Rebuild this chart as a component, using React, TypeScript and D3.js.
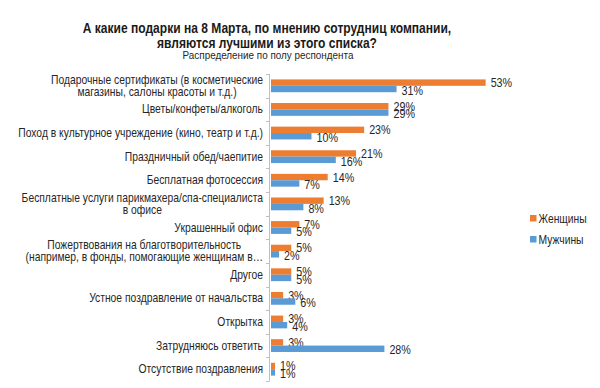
import React, { useEffect, useRef } from 'react';
import * as d3 from 'd3';

const categories: string[][] = [
  ['Подарочные сертификаты (в косметические', 'магазины, салоны красоты и т.д.)'],
  ['Цветы/конфеты/алкоголь'],
  ['Поход в культурное учреждение (кино, театр и т.д.)'],
  ['Праздничный обед/чаепитие'],
  ['Бесплатная фотосессия'],
  ['Бесплатные услуги парикмахера/спа-специалиста', 'в офисе'],
  ['Украшенный офис'],
  ['Пожертвования на благотворительность', '(например, в фонды, помогающие женщинам в…'],
  ['Другое'],
  ['Устное поздравление от начальства'],
  ['Открытка'],
  ['Затрудняюсь ответить'],
  ['Отсутствие поздравления'],
];
const women = [53, 29, 23, 21, 14, 13, 7, 5, 5, 3, 3, 3, 1];
const men = [31, 29, 10, 16, 7, 8, 5, 2, 5, 6, 4, 28, 1];
const seriesNames = ['Женщины', 'Мужчины'];
const colors = ['#ED7D31', '#5B9BD5'];

const title = ['А какие подарки на 8 Марта, по мнению сотрудниц  компании,', 'являются лучшими из этого списка?'];
const subtitle = 'Распределение по полу респондента';

const W = 600;
const H = 388;
const SX = 0.86; // текст в оригинале сжат по горизонтали
const FONT = 'Liberation Sans, Arial, sans-serif';

export default function App() {
  const svgRef = useRef<SVGSVGElement>(null);

  useEffect(() => {
    const svg = d3.select(svgRef.current);
    svg.selectAll('*').remove();

    const x = d3.scaleLinear().domain([0, 60]).range([271, 514]);
    const y = d3.scaleBand<number>()
      .domain(d3.range(categories.length))
      .range([74, 381]);
    const barH = 6.4;

    // заголовок
    const t = svg.append('g').attr('font-family', FONT).attr('fill', '#1a1a1a');
    title.forEach((line, i) => {
      t.append('text')
        .attr('transform', `translate(267,${33 + i * 14.5}) scale(${SX},1)`)
        .attr('text-anchor', 'middle')
        .attr('font-size', 14)
        .attr('font-weight', 'bold')
        .text(line);
    });
    t.append('text')
      .attr('transform', `translate(268,59) scale(${SX},1)`)
      .attr('text-anchor', 'middle')
      .attr('font-size', 11.5)
      .attr('fill', '#262626')
      .text(subtitle);

    // ось + засечки
    const ax = svg.append('g').attr('stroke', '#bfbfbf').attr('stroke-width', 1);
    ax.append('line').attr('x1', 269.5).attr('x2', 269.5).attr('y1', y.range()[0]).attr('y2', y.range()[1]);
    d3.range(categories.length + 1).forEach(i => {
      const yy = Math.round(y.range()[0] + i * y.step()) + 0.5;
      ax.append('line').attr('x1', 266).attr('x2', 269.5).attr('y1', yy).attr('y2', yy);
    });

    // подписи категорий
    const lab = svg.append('g').attr('font-family', FONT).attr('font-size', 12).attr('fill', '#262626');
    categories.forEach((lines, i) => {
      const cy = y(i)! + y.bandwidth() / 2;
      const g = lab.append('g').attr('transform', `translate(263,${cy}) scale(${SX},1)`);
      const lh = 12;
      const texts = lines.map((l, j) =>
        g.append('text')
          .attr('y', (j - (lines.length - 1) / 2) * lh + 4)
          .text(l));
      if (lines.length === 1) {
        texts[0].attr('text-anchor', 'end');
      } else {
        // многострочные подписи центрируются по самой длинной строке
        const widths = texts.map(tx => (tx.node() as SVGTextElement).getComputedTextLength());
        const maxW = d3.max(widths)!;
        texts.forEach(tx => tx.attr('text-anchor', 'middle').attr('x', -maxW / 2));
      }
    });

    // столбцы
    [women, men].forEach((vals, s) => {
      const g = svg.append('g');
      vals.forEach((v, i) => {
        const cy = y(i)! + y.bandwidth() / 2;
        const y0 = cy - barH + s * barH;
        g.append('rect')
          .attr('x', x(0))
          .attr('y', y0)
          .attr('width', x(v) - x(0))
          .attr('height', barH)
          .attr('fill', colors[s]);
        g.append('text')
          .attr('transform', `translate(${x(v) + 5},${y0 + barH / 2 + 4.5 + s * 1.2}) scale(${SX},1)`)
          .attr('font-family', FONT)
          .attr('font-size', 12.5)
          .attr('fill', '#262626')
          .text(`${v}%`);
      });
    });

    // легенда
    const leg = svg.append('g').attr('font-family', FONT).attr('font-size', 12).attr('fill', '#262626');
    seriesNames.forEach((name, i) => {
      const ly = 218 + i * 21;
      leg.append('rect').attr('x', 530).attr('y', ly - 3).attr('width', 6.5).attr('height', 6.5).attr('fill', colors[i]);
      leg.append('text')
        .attr('transform', `translate(538.5,${ly + 4.5}) scale(${SX},1)`)
        .text(name);
    });
  }, []);

  return (
    <svg
      ref={svgRef}
      width={W}
      height={H}
      style={{ position: 'absolute', left: 0, top: 0, background: '#fff' }}
    />
  );
}
